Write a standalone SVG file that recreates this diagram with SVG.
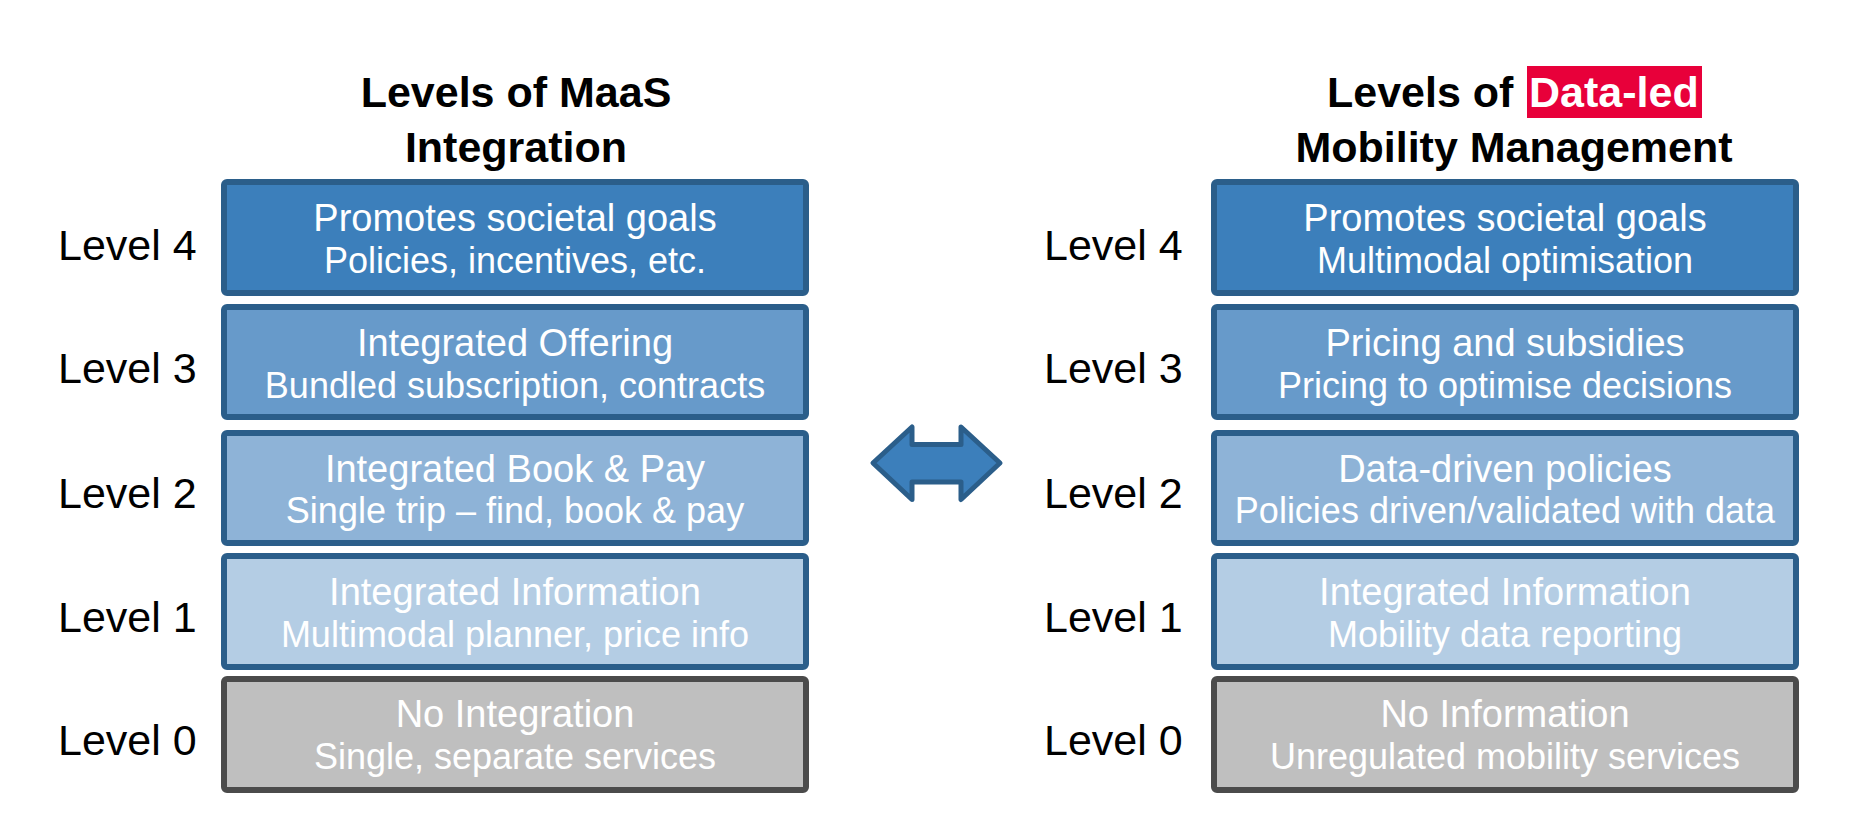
<svg xmlns="http://www.w3.org/2000/svg" width="1862" height="840" viewBox="0 0 1862 840">
<style>
.title{font-family:"Liberation Sans",Arial,sans-serif;font-weight:bold;font-size:43px;fill:#000;text-anchor:middle}
.lvl{font-family:"Liberation Sans",Arial,sans-serif;font-size:43px;fill:#000}
.t1{font-family:"Liberation Sans",Arial,sans-serif;font-size:38px;fill:#fff;text-anchor:middle}
.t2{font-family:"Liberation Sans",Arial,sans-serif;font-size:36px;fill:#fff;text-anchor:middle}
.box{stroke-width:6;stroke-linejoin:round}
.b4{fill:#3C7FBB;stroke:#2B5E8A}
.b3{fill:#679ACA;stroke:#2B5E8A}
.b2{fill:#8EB3D7;stroke:#2B5E8A}
.b1{fill:#B4CDE4;stroke:#2B5E8A}
.b0{fill:#BFBFBF;stroke:#4B4B4B}
</style>
<rect width="1862" height="840" fill="#fff"/>
<g id="title-left">
<text class="title" x="516" y="107">Levels of MaaS</text>
<text class="title" x="516" y="162">Integration</text>
</g>
<g id="title-right">
<rect x="1527" y="66" width="175" height="52" fill="#E8003A"/>
<text class="title" style="text-anchor:start" x="1327" y="107">Levels of <tspan x="1529" fill="#fff">Data-led</tspan></text>
<text class="title" x="1514" y="162">Mobility Management</text>
</g>
<g id="labels-left">
<text class="lvl" x="58" y="260">Level 4</text>
<text class="lvl" x="58" y="383">Level 3</text>
<text class="lvl" x="58" y="508">Level 2</text>
<text class="lvl" x="58" y="632">Level 1</text>
<text class="lvl" x="58" y="755">Level 0</text>
</g>
<g id="labels-right">
<text class="lvl" x="1044" y="260">Level 4</text>
<text class="lvl" x="1044" y="383">Level 3</text>
<text class="lvl" x="1044" y="508">Level 2</text>
<text class="lvl" x="1044" y="632">Level 1</text>
<text class="lvl" x="1044" y="755">Level 0</text>
</g>
<g id="left-l4">
<rect class="box b4" x="224" y="182" width="582" height="111" rx="3"/>
<text class="t1" x="515" y="231">Promotes societal goals</text>
<text class="t2" x="515" y="273">Policies, incentives, etc.</text>
</g>
<g id="left-l3">
<rect class="box b3" x="224" y="307" width="582" height="110" rx="3"/>
<text class="t1" x="515" y="356">Integrated Offering</text>
<text class="t2" x="515" y="398">Bundled subscription, contracts</text>
</g>
<g id="left-l2">
<rect class="box b2" x="224" y="433" width="582" height="110" rx="3"/>
<text class="t1" x="515" y="482">Integrated Book &amp; Pay</text>
<text class="t2" x="515" y="523">Single trip – find, book &amp; pay</text>
</g>
<g id="left-l1">
<rect class="box b1" x="224" y="556" width="582" height="111" rx="3"/>
<text class="t1" x="515" y="605">Integrated Information</text>
<text class="t2" x="515" y="647">Multimodal planner, price info</text>
</g>
<g id="left-l0">
<rect class="box b0" x="224" y="679" width="582" height="111" rx="3"/>
<text class="t1" x="515" y="727">No Integration</text>
<text class="t2" x="515" y="769">Single, separate services</text>
</g>
<g id="right-l4">
<rect class="box b4" x="1214" y="182" width="582" height="111" rx="3"/>
<text class="t1" x="1505" y="231">Promotes societal goals</text>
<text class="t2" x="1505" y="273">Multimodal optimisation</text>
</g>
<g id="right-l3">
<rect class="box b3" x="1214" y="307" width="582" height="110" rx="3"/>
<text class="t1" x="1505" y="356">Pricing and subsidies</text>
<text class="t2" x="1505" y="398">Pricing to optimise decisions</text>
</g>
<g id="right-l2">
<rect class="box b2" x="1214" y="433" width="582" height="110" rx="3"/>
<text class="t1" x="1505" y="482">Data-driven policies</text>
<text class="t2" x="1505" y="523">Policies driven/validated with data</text>
</g>
<g id="right-l1">
<rect class="box b1" x="1214" y="556" width="582" height="111" rx="3"/>
<text class="t1" x="1505" y="605">Integrated Information</text>
<text class="t2" x="1505" y="647">Mobility data reporting</text>
</g>
<g id="right-l0">
<rect class="box b0" x="1214" y="679" width="582" height="111" rx="3"/>
<text class="t1" x="1505" y="727">No Information</text>
<text class="t2" x="1505" y="769">Unregulated mobility services</text>
</g>
<g id="connectors">
<path d="M873,463 L912,427 L912,444.5 L961,444.5 L961,427 L1000,463 L961,499.5 L961,482 L912,482 L912,499.5 Z" fill="#3C7FBB" stroke="#2B5E8A" stroke-width="5" stroke-linejoin="round"/>
</g>
</svg>
